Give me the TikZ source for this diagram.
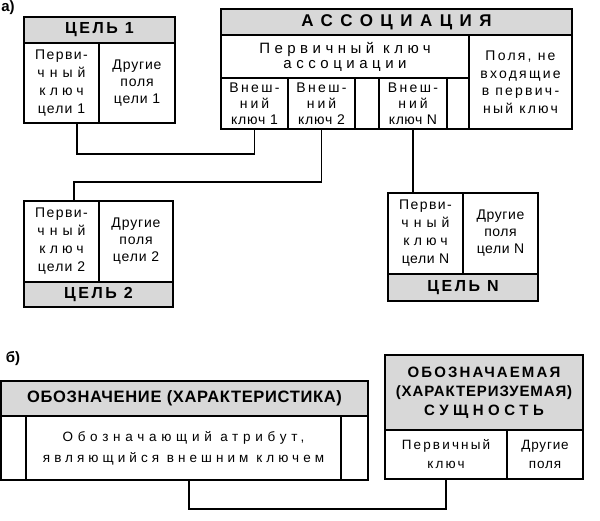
\documentclass[tikz,border=0pt]{standalone}
\usepackage{fontspec}
\setmainfont{Liberation Sans}
\newcommand{\lsp}[2]{{\addfontfeatures{LetterSpace=#1}#2}}
\definecolor{hdrgray}{RGB}{216,216,216}
\begin{document}
\begin{tikzpicture}[x=1pt,y=-1pt,
  cell/.style={draw, line width=1.6pt, inner sep=0pt, outer sep=0pt, anchor=north west, align=center},
  hdr/.style={cell, fill=hdrgray, font=\fontsize{16}{18}\selectfont\bfseries},
  txt/.style={cell, font=\fontsize{14}{18}\selectfont},
  conn/.style={line width=1.3pt},
  lbl/.style={inner sep=0pt, font=\fontsize{15}{17}\selectfont\bfseries}]
\useasboundingbox (0,0) rectangle (600,520);

% labels
\node[lbl] (la) at (8,8) {а)};
\node[lbl] (lb) at (13,359) {б)};

% Цель 1
\node[hdr, minimum width=151, minimum height=26] (c1h) at (24,17) {\lsp{16}{ЦЕЛЬ 1}};
\node[txt, minimum width=75, minimum height=80] (c1pk) at (24,43)
  {\lsp{10}{Перви-}\\\lsp{36}{чный}\\\lsp{29}{ключ}\\\lsp{8}{цели 1}};
\node[txt, minimum width=76, minimum height=80, font=\fontsize{14}{17}\selectfont] (c1o) at (99,43)
  {\lsp{6}{Другие}\\\lsp{6}{поля}\\\lsp{6}{цели 1}};

% Ассоциация
\node[hdr, minimum width=351, minimum height=26, font=\fontsize{17}{19}\selectfont\bfseries] (ah) at (221,9) {\lsp{44}{АССОЦИАЦИЯ}};
\node[txt, minimum width=248, minimum height=43, font=\fontsize{15}{15}\selectfont] (apk) at (221,35)
  {\lsp{30}{Первичный ключ}\\\lsp{30}{ассоциации}};
\node[txt, minimum width=103, minimum height=94, font=\fontsize{14}{17.5}\selectfont] (aother) at (469,35)
  {\lsp{16}{Поля, не}\\\lsp{16}{входящие}\\\lsp{16}{в первич-}\\\lsp{16}{ный ключ}};
\node[txt, minimum width=67, minimum height=51, font=\fontsize{14}{16}\selectfont] (fk1) at (221,78)
  {\lsp{17}{Внеш-}\\\lsp{21}{ний}\\\lsp{6}{ключ 1}};
\node[txt, minimum width=67, minimum height=51, font=\fontsize{14}{16}\selectfont] (fk2) at (288,78)
  {\lsp{17}{Внеш-}\\\lsp{21}{ний}\\\lsp{6}{ключ 2}};
\node[txt, minimum width=24, minimum height=51] (fke1) at (355,78) {};
\node[txt, minimum width=68, minimum height=51, font=\fontsize{14}{16}\selectfont] (fkN) at (379,78)
  {\lsp{17}{Внеш-}\\\lsp{21}{ний}\\\lsp{4}{ключ N}};
\node[txt, minimum width=22, minimum height=51] (fke2) at (447,78) {};

% Цель 2
\node[txt, minimum width=75, minimum height=81] (c2pk) at (24,201)
  {\lsp{10}{Перви-}\\\lsp{36}{чный}\\\lsp{29}{ключ}\\\lsp{8}{цели 2}};
\node[txt, minimum width=74, minimum height=81, font=\fontsize{14}{17}\selectfont] (c2o) at (99,201)
  {\lsp{6}{Другие}\\\lsp{6}{поля}\\\lsp{6}{цели 2}};
\node[hdr, minimum width=149, minimum height=25] (c2h) at (24,282) {\lsp{16}{ЦЕЛЬ 2}};

% Цель N
\node[txt, minimum width=75, minimum height=81] (cNpk) at (388,193)
  {\lsp{10}{Перви-}\\\lsp{36}{чный}\\\lsp{29}{ключ}\\\lsp{4}{цели N}};
\node[txt, minimum width=75, minimum height=81, font=\fontsize{14}{17}\selectfont] (cNo) at (463,193)
  {\lsp{4}{Другие}\\\lsp{4}{поля}\\\lsp{4}{цели N}};
\node[hdr, minimum width=150, minimum height=27] (cNh) at (388,274) {\lsp{16}{ЦЕЛЬ N}};

% Обозначение
\node[hdr, minimum width=367, minimum height=35, font=\fontsize{16.5}{18}\selectfont\bfseries] (oh) at (1,381)
  {\lsp{4}{ОБОЗНАЧЕНИЕ (ХАРАКТЕРИСТИКА)}};
\node[txt, minimum width=25, minimum height=64] (oe1) at (1,416) {};
\node[txt, minimum width=315, minimum height=64, font=\fontsize{13.5}{21}\selectfont] (omid) at (26,416)
  {\lsp{35}{Обозначающий атрибут,}\\\lsp{30}{являющийся внешним ключем}};
\node[txt, minimum width=27, minimum height=64] (oe2) at (341,416) {};

% Обозначаемая сущность
\node[hdr, minimum width=198, minimum height=75, font=\fontsize{15}{19}\selectfont\bfseries] (sh) at (385,355)
  {\lsp{14}{ОБОЗНАЧАЕМАЯ}\\\lsp{6}{(ХАРАКТЕРИЗУЕМАЯ)}\\\lsp{30}{СУЩНОСТЬ}};
\node[txt, minimum width=122, minimum height=49, font=\fontsize{13.5}{19}\selectfont] (spk) at (385,430)
  {\lsp{16}{Первичный}\\\lsp{16}{ключ}};
\node[txt, minimum width=76, minimum height=49, font=\fontsize{13.5}{19}\selectfont] (so) at (507,430)
  {\lsp{6}{Другие}\\\lsp{6}{поля}};

% connectors
\draw[conn] ([xshift=15.5pt]c1pk.south) -- ++(0,31) -| (fk1.south);
\draw[conn] (fk2.south) -- ++(0,53) -| ([xshift=12.5pt]c2pk.north);
\draw[conn] (fkN.south) -- (fkN.south |- cNpk.north);
\draw[conn] ([xshift=5.5pt]omid.south) -- ++(0,29) -| (spk.south);
\end{tikzpicture}
\end{document}
